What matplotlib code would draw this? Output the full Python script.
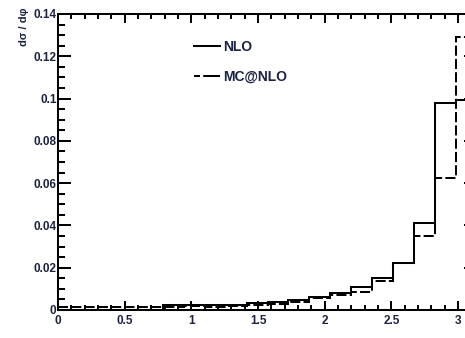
"""Azimuthal-separation histogram, NLO vs MC@NLO (ROOT-style frame)."""

import matplotlib

matplotlib.use("Agg")
import matplotlib.pyplot as plt  # noqa: E402
from matplotlib.ticker import FuncFormatter, MultipleLocator  # noqa: E402

import numpy as np  # noqa: E402

N_BINS = 20
X_MAX = np.pi

nlo = [0.0, 0.0, 0.0, 0.0, 0.0, 0.0025, 0.0025, 0.0022, 0.0025, 0.0035,
       0.004, 0.0048, 0.0063, 0.008, 0.011, 0.0152, 0.0224, 0.041, 0.098, 0.0995]
mcatnlo = [0.0015, 0.0015, 0.0015, 0.0015, 0.0015, 0.0015, 0.0018, 0.0015,
           0.0018, 0.0022, 0.003, 0.004, 0.0055, 0.007, 0.0085, 0.0137,
           0.0222, 0.035, 0.0626, 0.129]
labels = ["NLO", "MC@NLO"]

_TEXT = "#1c2340"
_LW = 1.45

plt.rcParams["font.family"] = ["Liberation Sans", "DejaVu Sans"]

edges = np.linspace(0.0, X_MAX, N_BINS + 1)

fig = plt.figure(figsize=(4.65, 3.38), dpi=100)
# right edge of the frame sits past the image border, as in the cropped original
ax = fig.add_axes([58 / 465, 28 / 338, 419 / 465, 296 / 338])

ax.stairs(nlo, edges, color="black", lw=_LW, baseline=None)
ax.stairs(mcatnlo, edges, color="black", lw=_LW, baseline=None,
          linestyle=(0, (5, 1.6)))

ax.set_xlim(0, X_MAX)
ax.set_ylim(0, 0.14)
ax.xaxis.set_major_locator(MultipleLocator(0.5))
ax.xaxis.set_minor_locator(MultipleLocator(0.1))
ax.yaxis.set_major_locator(MultipleLocator(0.02))
ax.yaxis.set_minor_locator(MultipleLocator(0.005))
fmt = FuncFormatter(lambda v, _: f"{v:g}")
ax.xaxis.set_major_formatter(fmt)
ax.yaxis.set_major_formatter(fmt)

ax.tick_params(which="both", direction="in", top=True, right=True,
               width=_LW, labelsize=8.5, labelcolor=_TEXT)
ax.tick_params(axis="x", which="major", length=6.5, pad=3.5)
ax.tick_params(axis="x", which="minor", length=3.6)
ax.tick_params(axis="y", which="major", length=9.4, pad=1)
ax.tick_params(axis="y", which="minor", length=5)
for lab in ax.get_xticklabels() + ax.get_yticklabels():
    lab.set_fontweight("bold")
for sp in ax.spines.values():
    sp.set_linewidth(_LW)

fig.text(24 / 465, 1 - 8 / 338, "dσ / dφ", rotation=90, ha="center",
         va="top", fontsize=8, fontweight="bold", color=_TEXT)

leg = ax.legend([plt.Line2D([], [], color="black", lw=_LW),
                 plt.Line2D([], [], color="black", lw=_LW,
                            linestyle=(0, (3, 1.6, 8, 0)))],
                labels, loc="upper left", bbox_to_anchor=(187 / 465, 1 - 33 / 338),
                bbox_transform=fig.transFigure, frameon=False,
                prop={"size": 10, "weight": "bold"}, handlelength=1.85,
                handletextpad=0.25, labelspacing=1.15, borderpad=0)
for t in leg.get_texts():
    t.set_color(_TEXT)

fig.savefig("out.png", dpi=100)
plt.close(fig)
